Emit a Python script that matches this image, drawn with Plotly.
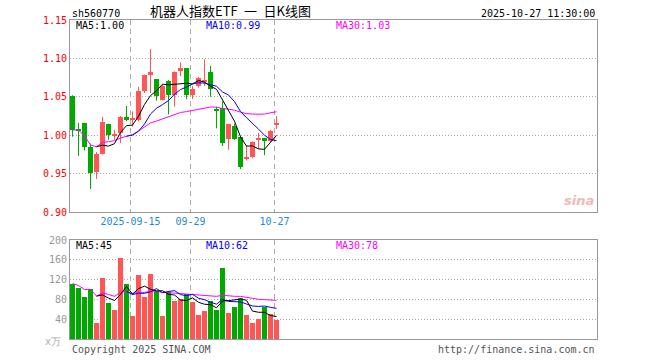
import plotly.graph_objects as go
import pandas as pd

# ---------------- data ----------------
dates = ["2025-09-01", "2025-09-02", "2025-09-03", "2025-09-04", "2025-09-05",
         "2025-09-08", "2025-09-09", "2025-09-10", "2025-09-11", "2025-09-12",
         "2025-09-15", "2025-09-16", "2025-09-17", "2025-09-18", "2025-09-19",
         "2025-09-22", "2025-09-23", "2025-09-24", "2025-09-25", "2025-09-26",
         "2025-09-29", "2025-09-30", "2025-10-09", "2025-10-10", "2025-10-13",
         "2025-10-14", "2025-10-15", "2025-10-16", "2025-10-17", "2025-10-20",
         "2025-10-21", "2025-10-22", "2025-10-23", "2025-10-24", "2025-10-27"]
opens = [1.051, 1.007, 1.016, 0.985, 0.952, 0.976, 1.014, 1.000, 1.003, 1.024,
         1.020, 1.020, 1.057, 1.078, 1.073, 1.046, 1.071, 1.052, 1.083, 1.087,
         1.052, 1.064, 1.070, 1.082, 1.033, 1.036, 0.995, 1.012, 0.998, 0.970,
         0.971, 0.994, 0.996, 0.992, 1.014]
highs = [1.052, 1.016, 1.016, 0.989, 0.978, 1.024, 1.015, 1.007, 1.025, 1.038,
         1.031, 1.063, 1.079, 1.112, 1.073, 1.066, 1.072, 1.083, 1.095, 1.087,
         1.064, 1.076, 1.099, 1.090, 1.037, 1.044, 1.015, 1.015, 0.999, 0.987,
         0.992, 1.003, 0.996, 1.007, 1.025]
lows = [0.998, 0.973, 0.980, 0.930, 0.943, 0.975, 0.994, 0.994, 0.990, 1.018,
        1.011, 1.018, 1.055, 1.055, 1.045, 1.045, 1.027, 1.037, 1.077, 1.047,
        1.047, 1.062, 1.064, 1.050, 1.009, 0.986, 0.981, 0.994, 0.956, 0.967,
        0.970, 0.982, 0.974, 0.991, 1.008]
closes = [1.007, 1.006, 0.985, 0.951, 0.976, 1.017, 1.000, 1.001, 1.024, 1.020,
          1.021, 1.057, 1.078, 1.082, 1.051, 1.064, 1.053, 1.082, 1.087, 1.052,
          1.060, 1.075, 1.072, 1.060, 1.032, 0.990, 1.014, 0.995, 0.959, 0.971,
          0.991, 0.995, 0.992, 1.006, 1.015]
volumes = [112, 104, 84, 101, 32, 124, 73, 59, 163, 112,
           46, 129, 84, 131, 96, 47, 94, 76, 81, 91,
           74, 49, 56, 77, 59, 143, 53, 64, 83, 49,
           33, 41, 64, 50, 39]

xtick_pos = [10, 20, 34]
xtick_labels = ["2025-09-15", "09-29", "10-27"]
price_ticks = [0.90, 0.95, 1.00, 1.05, 1.10, 1.15]
vol_ticks = [40, 80, 120, 160, 200]

RED = "#FF5555"
GREEN = "#00A800"
GRID = "#AAAAAA"
BORDER = "#999999"
MONO = "DejaVu Sans Mono"

# ---------------- derived ----------------
n = len(dates)
idx = list(range(n))
cl = pd.Series(closes)
vs = pd.Series(volumes)
ma5 = cl.rolling(5).mean()
ma10 = cl.rolling(10).mean()
ma30 = cl.rolling(30, min_periods=1).mean()
vma5 = vs.rolling(5).mean()
vma10 = vs.rolling(10).mean()
vma30 = vs.rolling(30, min_periods=1).mean()

up = [c >= o for o, c in zip(opens, closes)]
colors = [RED if u else GREEN for u in up]
MINH = 0.0016
body_base = [min(o, c) for o, c in zip(opens, closes)]
body_h = [max(abs(c - o), MINH) for o, c in zip(opens, closes)]

fig = go.Figure()

# wicks
for is_up, col in [(True, RED), (False, GREEN)]:
    wx, wy = [], []
    for i in idx:
        if up[i] == is_up:
            wx += [i, i, None]
            wy += [lows[i], highs[i], None]
    fig.add_trace(go.Scatter(x=wx, y=wy, mode="lines", line=dict(color=col, width=1),
                             hoverinfo="skip", showlegend=False, xaxis="x", yaxis="y"))

# bodies
fig.add_trace(go.Bar(x=idx, y=body_h, base=body_base, width=0.83,
                     marker=dict(color=colors, line=dict(width=0)),
                     showlegend=False, xaxis="x", yaxis="y"))

# MAs price
for s, col in [(ma30, "#FF00FF"), (ma10, "#0000FF"), (ma5, "#000000")]:
    fig.add_trace(go.Scatter(x=idx, y=s, mode="lines", line=dict(color=col, width=1),
                             showlegend=False, xaxis="x", yaxis="y"))

# volume bars
fig.add_trace(go.Bar(x=idx, y=volumes, width=0.83,
                     marker=dict(color=colors, line=dict(width=0)),
                     showlegend=False, xaxis="x2", yaxis="y2"))
for s, col in [(vma30, "#FF00FF"), (vma10, "#0000FF"), (vma5, "#000000")]:
    fig.add_trace(go.Scatter(x=idx, y=s, mode="lines", line=dict(color=col, width=1),
                             showlegend=False, xaxis="x2", yaxis="y2"))

# ---------------- layout ----------------
L, R, T, B = 70, 597, 20, 339
W, H = R - L, B - T
x0 = -2.5 / 6
xr = [x0, x0 + W / 6.0]
grid_x = [p - 0.333 for p in xtick_pos]

price_top = 1.0
price_bot = (B - 212) / H
vol_top = (B - 240) / H


def px(x):
    return (x - L) / W


def py(y):
    return (B - y) / H


fig.update_layout(
    width=660, height=360,
    margin=dict(l=L, r=660 - R, t=T, b=360 - B),
    paper_bgcolor="white", plot_bgcolor="white",
    bargap=0, barmode="overlay",
    font=dict(family=MONO, size=10, color="#000"),
    xaxis=dict(domain=[0, 1], range=xr, anchor="y",
               tickmode="array", tickvals=grid_x, ticktext=xtick_labels,
               tickfont=dict(color="#1E8BD6", size=10, family=MONO),
               showgrid=True, gridcolor=GRID, griddash="5px,4px", gridwidth=1,
               showline=True, mirror=True, linecolor=BORDER, linewidth=1,
               ticks="", zeroline=False),
    yaxis=dict(domain=[price_bot, price_top], range=[0.90, 1.15], anchor="x",
               tickmode="array", tickvals=price_ticks,
               ticktext=["%.2f" % v for v in price_ticks],
               tickfont=dict(color="#FF0000", size=10, family=MONO),
               showgrid=True, gridcolor=GRID, griddash="1px,2px", gridwidth=1,
               showline=True, mirror=True, linecolor=BORDER, linewidth=1,
               ticks="", zeroline=False),
    xaxis2=dict(domain=[0, 1], range=xr, anchor="y2",
                tickmode="array", tickvals=grid_x, showticklabels=False,
                showgrid=True, gridcolor=GRID, griddash="5px,4px", gridwidth=1,
                showline=True, mirror=True, linecolor=BORDER, linewidth=1,
                ticks="", zeroline=False),
    yaxis2=dict(domain=[0, vol_top], range=[0, 200], anchor="x2",
                tickmode="array", tickvals=vol_ticks,
                ticktext=[str(v) for v in vol_ticks],
                tickfont=dict(color="#999999", size=10, family=MONO),
                showgrid=True, gridcolor=GRID, griddash="1px,2px", gridwidth=1,
                showline=True, mirror=True, linecolor=BORDER, linewidth=1,
                ticks="", zeroline=False),
)

ann = []


def add_text(x, y, text, color="#000", size=10, xanchor="left", family=MONO, **kw):
    ann.append(dict(x=px(x), y=py(y), xref="paper", yref="paper", text=text,
                    showarrow=False, xanchor=xanchor, yanchor="middle",
                    font=dict(color=color, size=size, family=family), **kw))


add_text(70, 13, "sh560770")
add_text(230, 10.5, "机器人指数ETF\u2002一\u2002日K线图", size=13, xanchor="center",
         family="Noto Sans CJK SC")
add_text(597, 13, "2025-10-27 11:30:00", xanchor="right")
add_text(74, 26, "MA5:%.2f" % ma5.iloc[-1])
add_text(204, 26, "MA10:%.2f" % ma10.iloc[-1], color="#0000FF")
add_text(334, 26, "MA30:%.2f" % ma30.iloc[-1], color="#FF00FF")
add_text(74, 246, "MA5:%d" % round(vma5.iloc[-1]))
add_text(204, 246, "MA10:%d" % round(vma10.iloc[-1]), color="#0000FF")
add_text(334, 246, "MA30:%d" % round(vma30.iloc[-1]), color="#FF00FF")
add_text(63, 341, "x万", color="#AAAAAA", xanchor="right")
add_text(70, 349, "Copyright 2025 SINA.COM", color="#555555")
add_text(597, 349, "http://finance.sina.com.cn", color="#555555", xanchor="right")
add_text(596, 200, "<i><b>sina</b></i>", color="#F2B8B8", size=13, xanchor="right",
         family="DejaVu Sans")
fig.update_layout(annotations=ann)

fig.write_html("out.html",
               config={"displayModeBar": False},
               post_script="document.body.style.margin='0';document.body.style.padding='0';")
